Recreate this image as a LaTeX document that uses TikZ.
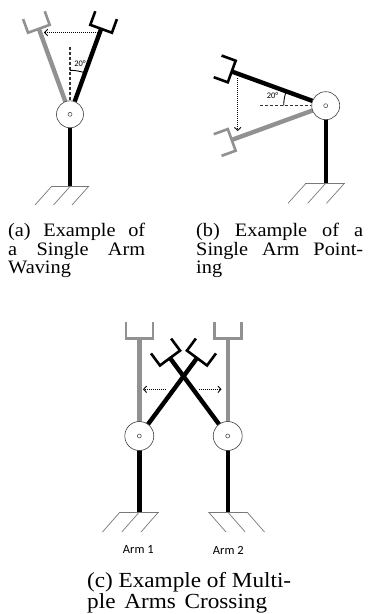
\documentclass[tikz,border=0pt]{standalone}
\usepackage{fontspec}
\setmainfont{Liberation Serif}
\newfontfamily\capfont[FakeStretch=1.07]{Liberation Serif}
\newfontfamily\capcfont[FakeStretch=1.08]{Liberation Serif}
\newfontfamily\lblfont{Carlito}
\usetikzlibrary{calc,arrows.meta}
\definecolor{armgray}{RGB}{145,145,145}
\definecolor{groundgray}{RGB}{120,120,120}
\newcommand\robothand[5]{%
  \draw[#5] ($(#1)+(#2+90:#3)+(#2:#4)$) -- ($(#1)+(#2+90:#3)$) -- ($(#1)+(#2-90:#3)$) -- ($(#1)+(#2-90:#3)+(#2:#4)$);}
\begin{document}
\begin{tikzpicture}[x=1pt,y=-1pt,
  arm/.style={line width=4.4pt},
  blackarm/.style={arm, black},
  grayarm/.style={arm, armgray},
  blackhand/.style={line width=2.6pt, black, line join=miter},
  grayhand/.style={line width=2.6pt, armgray, line join=miter},
  joint/.style={circle, draw=black!75, line width=0.6pt, fill=white, inner sep=0pt},
  pivot/.style={circle, draw=black!75, line width=0.5pt, fill=white, minimum size=4pt, inner sep=0pt},
  ground/.style={line width=0.7pt, groundgray},
  refline/.style={line width=1.3pt, black!80, dash pattern=on 3pt off 2pt},
  anglearc/.style={line width=0.9pt, black},
  motion/.style={line width=1.2pt, black, dash pattern=on 1pt off 1pt, -{Straight Barb[length=3pt,width=6.5pt,line width=0.9pt]}},
  anglbl/.style={font=\lblfont\fontsize{8.5}{10}\selectfont, inner sep=0pt},
  armlbl/.style={font=\lblfont\fontsize{12.5}{14}\selectfont, inner sep=0pt, anchor=base},
  capab/.style={font=\capfont\fontsize{19}{19}\selectfont, inner sep=0pt, anchor=base west},
  capc/.style={font=\capcfont\fontsize{21.5}{21}\selectfont, inner sep=0pt, anchor=base west}
]
\useasboundingbox (0,0) rectangle (371,614);

% ---------------- (a) single arm waving ----------------
\coordinate (Ja) at (70,114.3);
\coordinate (Ga) at (70,186);
\coordinate (TaB) at ($(Ja)+(-70:91)$);
\coordinate (TaG) at ($(Ja)+(-110:91)$);
\draw[ground] (52,186) -- (89,186);
\draw[ground] (52,186) -- (35,205) (70.5,186) -- (53.5,205) (89,186) -- (72,205);
\draw[blackarm] (Ja) -- (Ga);
\draw[grayarm] (Ja) -- (TaG);
\draw[blackarm] (Ja) -- (TaB);
\robothand{TaG}{-110}{11.5}{14.5}{grayhand}
\robothand{TaB}{-70}{11.5}{14.5}{blackhand}
\node[joint, minimum size=27pt] (ja) at (Ja) {};
\node[pivot] at (Ja) {};
\coordinate (Va) at (70,46.5);
\draw[refline] (Va) -- (ja.north);
\draw[anglearc, shift={(Ja)}] plot[domain=-90:-70, samples=15] (\x:44);
\node[anglbl] (la) at (80,64) {20°};
\coordinate (Ma1) at (97.5,32.5);
\coordinate (Ma2) at (44,32.5);
\draw[motion] (Ma1) -- (Ma2);

% ---------------- (b) single arm pointing ----------------
\coordinate (Jb) at (325.7,105.7);
\coordinate (Gb) at (325.7,183.3);
\coordinate (TbB) at ($(Jb)+(-160:100)$);
\coordinate (TbG) at ($(Jb)+(160:100)$);
\draw[ground] (305,183.3) -- (345,183.3);
\draw[ground] (306,183.3) -- (288,203.3) (325.7,183.3) -- (307.7,203.3) (344.5,183.3) -- (326.5,203.3);
\draw[blackarm] (Jb) -- (Gb);
\draw[grayarm] (Jb) -- (TbG);
\draw[blackarm] (Jb) -- (TbB);
\robothand{TbG}{160}{11.5}{15}{grayhand}
\robothand{TbB}{-160}{11.5}{15}{blackhand}
\node[joint, minimum size=28pt] (jb) at (Jb) {};
\node[pivot] at (Jb) {};
\coordinate (Hb) at (260,105.7);
\draw[refline] (Hb) -- (jb.west);
\draw[anglearc, shift={(Jb)}] plot[domain=-180:-160, samples=15] (\x:42);
\node[anglbl] (lb) at (272.5,95.5) {20°};
\coordinate (Mb1) at (237.7,78);
\coordinate (Mb2) at (237.7,131);
\draw[motion] (Mb1) -- (Mb2);

% ---------------- (c) multiple arms crossing ----------------
\coordinate (J1) at (139.3,436);
\coordinate (J2) at (227.7,436);
\coordinate (G1) at (139.3,512);
\coordinate (G2) at (227.7,512);
\coordinate (T1G) at ($(J1)+(-90:97.7)$);
\coordinate (T2G) at ($(J2)+(-90:97.7)$);
\coordinate (T1B) at ($(J1)+(-53.5:97)$);
\coordinate (T2B) at ($(J2)+(-126.5:97)$);
\draw[ground] (120,512) -- (158.5,512);
\draw[ground] (120,512) -- (102.5,532) (139.3,512) -- (121.8,532) (158.5,512) -- (141,532);
\draw[ground] (208.5,512) -- (247,512);
\draw[ground] (208.5,512) -- (226,532) (227.7,512) -- (245.2,532) (247,512) -- (264.5,532);
\draw[blackarm] (J1) -- (G1);
\draw[blackarm] (J2) -- (G2);
\draw[grayarm] (J1) -- (T1G);
\draw[grayarm] (J2) -- (T2G);
\robothand{T1G}{-90}{13.5}{16}{grayhand}
\robothand{T2G}{-90}{13.5}{16}{grayhand}
\draw[blackarm] (J2) -- (T2B);
\draw[blackarm] (J1) -- (T1B);
\robothand{T2B}{-126.5}{12.5}{15}{blackhand}
\robothand{T1B}{-53.5}{12.5}{15}{blackhand}
\node[joint, minimum size=29pt] (j1) at (J1) {};
\node[pivot] at (J1) {};
\node[joint, minimum size=29pt] (j2) at (J2) {};
\node[pivot] at (J2) {};
\coordinate (Mc1) at (166,389.3);
\coordinate (Mc2) at (143,389.3);
\coordinate (Mc3) at (198.5,389.3);
\coordinate (Mc4) at (221.5,389.3);
\draw[motion] (Mc1) -- (Mc2);
\draw[motion] (Mc3) -- (Mc4);
\node[armlbl] (arm1) at (138.3,553.5) {Arm 1};
\node[armlbl] (arm2) at (228.3,554.5) {Arm 2};

% ---------------- captions ----------------
\node[capab] (ca1) at (8,236.5) {\makebox[137pt][s]{(a) Example of}};
\node[capab] (ca2) at (8,255) {\makebox[137pt][s]{a Single Arm}};
\node[capab] (ca3) at (8,273.5) {Waving};
\node[capab] (cb1) at (196,236.5) {\makebox[167pt][s]{(b) Example of a}};
\node[capab] (cb2) at (196,255) {\makebox[167pt][s]{Single Arm Point-}};
\node[capab] (cb3) at (196,273.5) {ing};
\node[capc] (cc1) at (87,587.7) {\makebox[204pt][s]{(c) Example of Multi-}};
\node[capc] (cc2) at (87,608.5) {\makebox[180pt][s]{ple Arms Crossing}};
\end{tikzpicture}
\end{document}
